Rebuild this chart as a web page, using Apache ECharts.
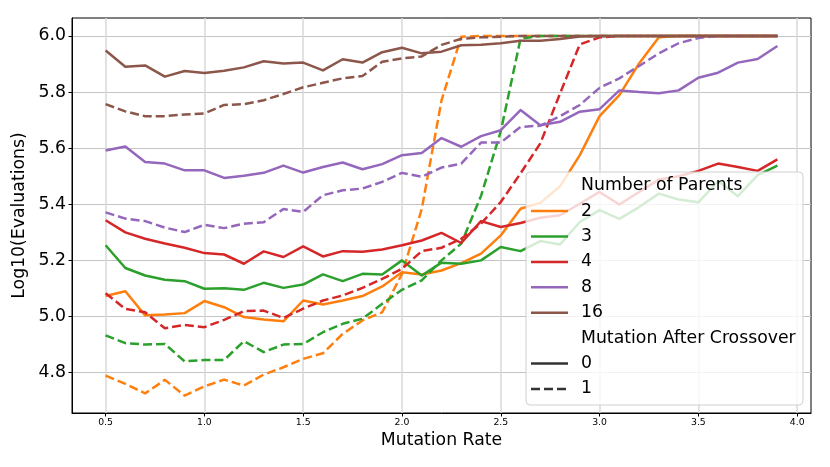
<!DOCTYPE html>
<html><head><meta charset="utf-8">
<script src="https://cdn.jsdelivr.net/npm/echarts@6/dist/echarts.min.js"></script>
<style>html,body{margin:0;padding:0;background:#fff}#c{width:830px;height:467px}</style>
</head><body><div id="c"></div>
<script>
const mutationRate = [0.5,0.6,0.7,0.8,0.9,1.0,1.1,1.2,1.3,1.4,1.5,1.6,1.7,1.8,1.9,2.0,2.1,2.2,2.3,2.4,2.5,2.6,2.7,2.8,2.9,3.0,3.1,3.2,3.3,3.4,3.5,3.6,3.7,3.8,3.9];
const parents = ['2','3','4','8','16'];
const mutationAfter = ['0','1'];
const parentColors = ['#ff7f0e','#2ca02c','#d62728','#9467bd','#8c564b'];

const p2_m0 = [5.073,5.09,5.004,5.007,5.012,5.055,5.033,4.998,4.989,4.983,5.057,5.043,5.057,5.073,5.107,5.158,5.15,5.164,5.19,5.224,5.289,5.384,5.405,5.464,5.575,5.714,5.789,5.902,5.995,6.0,6.0,6.0,6.0,6.0,6.0];
const p2_m1 = [4.789,4.76,4.726,4.774,4.718,4.751,4.775,4.754,4.793,4.819,4.849,4.869,4.938,4.986,5.015,5.152,5.383,5.77,5.997,6.0,6.0,6.0,6.0,6.0,6.0,6.0,6.0,6.0,6.0,6.0,6.0,6.0,6.0,6.0,6.0];
const p3_m0 = [5.254,5.173,5.146,5.131,5.126,5.099,5.101,5.095,5.12,5.102,5.114,5.15,5.126,5.152,5.15,5.2,5.146,5.192,5.188,5.2,5.248,5.233,5.269,5.257,5.337,5.379,5.348,5.39,5.438,5.417,5.407,5.483,5.429,5.504,5.538];
const p3_m1 = [4.933,4.905,4.9,4.902,4.84,4.845,4.845,4.912,4.873,4.9,4.902,4.944,4.974,4.992,5.045,5.095,5.129,5.2,5.26,5.43,5.66,5.99,6.0,6.0,6.0,6.0,6.0,6.0,6.0,6.0,6.0,6.0,6.0,6.0,6.0];
const p4_m0 = [5.343,5.3,5.277,5.26,5.245,5.226,5.221,5.188,5.232,5.212,5.25,5.214,5.233,5.231,5.239,5.254,5.271,5.298,5.262,5.34,5.319,5.333,5.352,5.361,5.402,5.444,5.399,5.444,5.488,5.5,5.519,5.545,5.533,5.519,5.56];
const p4_m1 = [5.083,5.027,5.015,4.958,4.97,4.962,4.988,5.019,5.021,4.995,5.028,5.057,5.075,5.102,5.134,5.17,5.233,5.245,5.277,5.331,5.408,5.51,5.617,5.795,5.97,5.995,6.0,6.0,6.0,6.0,6.0,6.0,6.0,6.0,6.0];
const p8_m0 = [5.592,5.606,5.551,5.545,5.521,5.521,5.494,5.502,5.512,5.538,5.513,5.533,5.549,5.525,5.543,5.575,5.583,5.636,5.605,5.643,5.664,5.736,5.682,5.694,5.73,5.739,5.806,5.8,5.796,5.806,5.851,5.869,5.905,5.918,5.964];
const p8_m1 = [5.371,5.349,5.34,5.317,5.301,5.327,5.315,5.331,5.336,5.383,5.373,5.432,5.45,5.456,5.48,5.512,5.498,5.531,5.545,5.62,5.62,5.676,5.68,5.714,5.754,5.815,5.849,5.893,5.938,5.974,5.993,6.0,6.0,6.0,6.0];
const p16_m0 = [5.948,5.89,5.895,5.855,5.875,5.868,5.876,5.888,5.91,5.902,5.905,5.877,5.917,5.905,5.942,5.958,5.938,5.944,5.967,5.969,5.974,5.983,5.983,5.989,5.998,6.0,6.0,6.0,6.0,6.0,6.0,6.0,6.0,6.0,6.0];
const p16_m1 = [5.757,5.731,5.714,5.714,5.72,5.724,5.754,5.757,5.771,5.793,5.817,5.833,5.849,5.857,5.908,5.92,5.927,5.968,5.99,5.995,5.997,6.0,6.0,6.0,6.0,6.0,6.0,6.0,6.0,6.0,6.0,6.0,6.0,6.0,6.0];

const xTicks = [0.5,1.0,1.5,2.0,2.5,3.0,3.5,4.0];
const yTicks = [4.8,5.0,5.2,5.4,5.6,5.8,6.0];

const seriesValues = [[p2_m0,p2_m1],[p3_m0,p3_m1],[p4_m0,p4_m1],[p8_m0,p8_m1],[p16_m0,p16_m1]];
const FONT = '"DejaVu Sans", sans-serif';
const BIG = 17.3;
const DASH = [9, 4];

const series = [];
parents.forEach((p, i) => {
  seriesValues[i].forEach((vals, m) => {
    series.push({
      name: p + '_' + m,
      type: 'line',
      symbol: 'none',
      silent: true,
      data: mutationRate.map((x, j) => [x, vals[j]]),
      lineStyle: { color: parentColors[i], width: 2.5, type: m === 0 ? 'solid' : DASH, cap: 'butt', join: 'round' }
    });
  });
});

// legend (built as graphic elements, on its own layer above the series)
const lg = { left: 526, top: 172, w: 277, h: 233, lineX1: 531, lineX2: 568, textX: 581, row0: 185.7, rowH: 25.4 };
const legendEls = [{
  type: 'rect', zlevel: 5, z: 1, silent: true,
  shape: { x: lg.left, y: lg.top, width: lg.w, height: lg.h, r: 4 },
  style: { fill: 'rgba(255,255,255,0.8)', stroke: '#d0d0d0', lineWidth: 1 }
}];
const rows = [{ title: 'Number of Parents' }]
  .concat(parents.map((p, i) => ({ label: p, color: parentColors[i], dash: null })))
  .concat([{ title: 'Mutation After Crossover' }])
  .concat(mutationAfter.map((m, k) => ({ label: m, color: '#333333', dash: k === 1 ? DASH : null })));
rows.forEach((r, k) => {
  const y = lg.row0 + k * lg.rowH;
  if (r.title === undefined) {
    legendEls.push({ type: 'line', zlevel: 5, z: 2, silent: true,
      shape: { x1: lg.lineX1, y1: y, x2: lg.lineX2, y2: y },
      style: { stroke: r.color, lineWidth: 2.5, lineDash: r.dash, lineCap: 'butt' } });
  }
  legendEls.push({ type: 'text', zlevel: 5, z: 2, silent: true, x: lg.textX, y: y,
    style: { text: r.title !== undefined ? r.title : r.label, fill: '#000', fontSize: BIG, fontFamily: FONT, verticalAlign: 'middle', align: 'left' } });
});

const chart = echarts.init(document.getElementById('c'), null, { renderer: 'canvas' });
chart.setOption({
  animation: false,
  backgroundColor: '#ffffff',
  grid: { left: 72, right: 19, top: 18, bottom: 54, show: true, borderColor: '#000', borderWidth: 1, backgroundColor: 'transparent' },
  xAxis: {
    type: 'value', min: 0.33, max: 4.07,
    axisLine: { show: true, onZero: false, lineStyle: { color: '#000', width: 1 } },
    axisTick: { show: true, customValues: xTicks, length: 3.5, lineStyle: { color: '#000' } },
    axisLabel: { customValues: xTicks, fontSize: 9.3, fontFamily: FONT, color: '#000', margin: 5, formatter: v => v.toFixed(1) },
    splitLine: { show: true, lineStyle: { color: '#d8d8d8', width: 1.5 } },
    name: 'Mutation Rate', nameLocation: 'middle', nameGap: 13,
    nameTextStyle: { fontSize: BIG, fontFamily: FONT, color: '#000' }
  },
  yAxis: {
    type: 'value', min: 4.656, max: 6.064,
    axisLine: { show: true, onZero: false, lineStyle: { color: '#000', width: 1 } },
    axisTick: { show: true, customValues: yTicks, length: 3.5, lineStyle: { color: '#000' } },
    axisLabel: { customValues: yTicks, fontSize: BIG, fontFamily: FONT, color: '#000', margin: 6, formatter: v => v.toFixed(1) },
    splitLine: { show: true, lineStyle: { color: '#c4c4c4', width: 1 } },
    name: 'Log10(Evaluations)', nameLocation: 'middle', nameGap: 33, nameRotate: 90,
    nameTextStyle: { fontSize: BIG, fontFamily: FONT, color: '#000' }
  },
  series: series,
  graphic: { elements: legendEls }
});
</script>
</body></html>
